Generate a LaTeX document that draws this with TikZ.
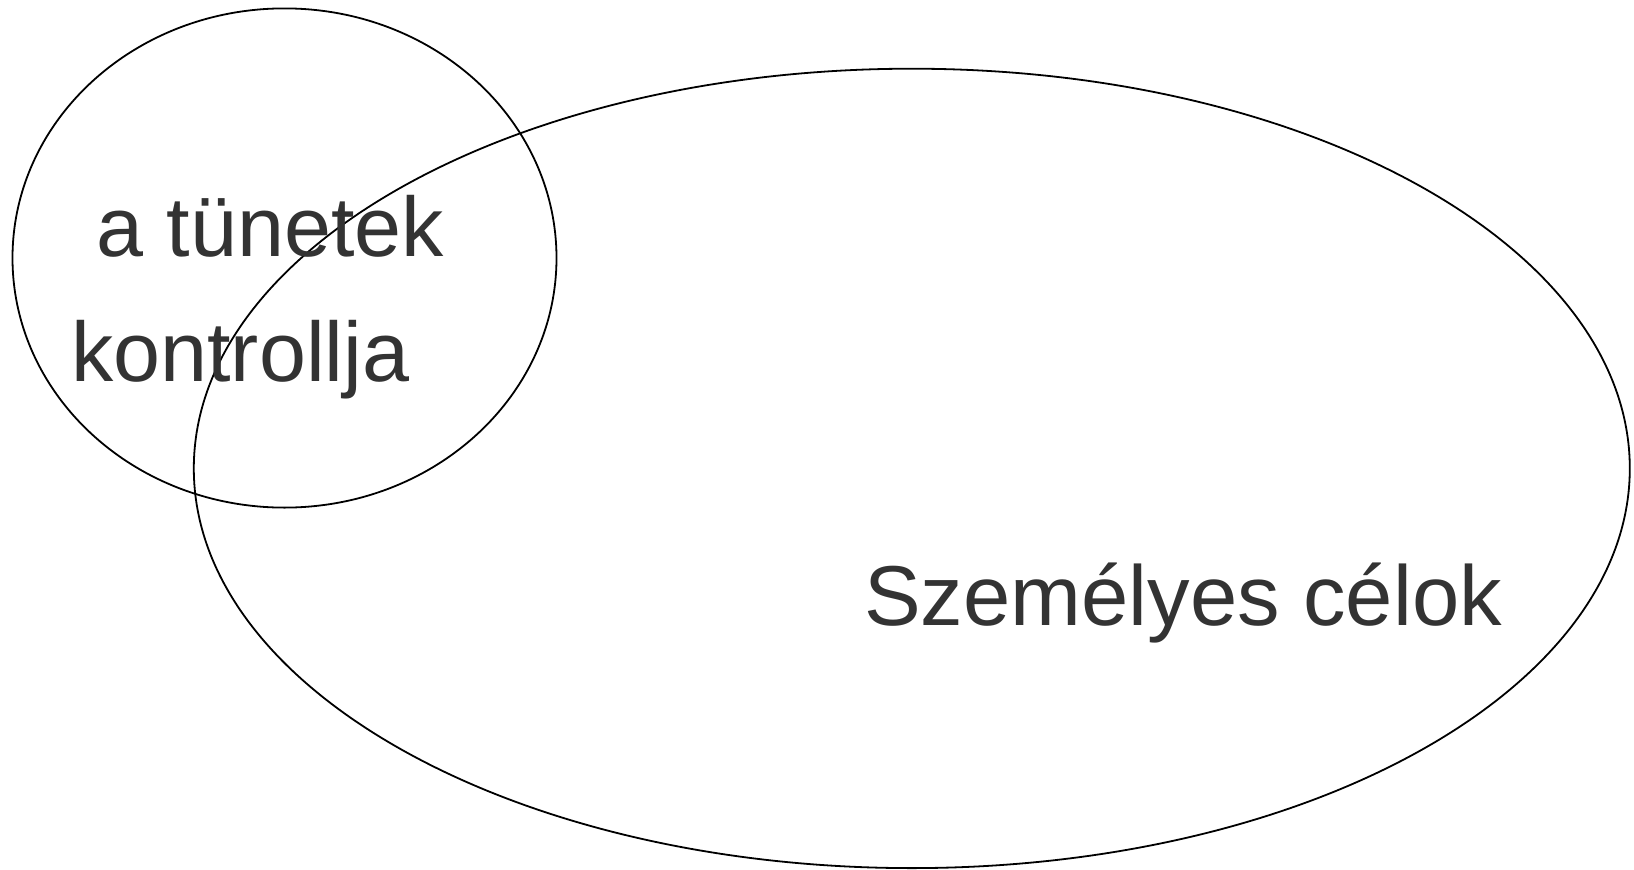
\documentclass[tikz,border=0pt]{standalone}
\usepackage{fontspec}
\setmainfont{Liberation Sans}
\definecolor{txt}{HTML}{333333}
\begin{document}
\begin{tikzpicture}[x=1pt,y=-1pt,
  ring/.style={draw=black,line width=1.8pt},
  lbl/.style={anchor=base west,inner sep=0pt,text=txt,font=\fontsize{84.5}{100}\selectfont}]
\useasboundingbox (0,0) rectangle (1634,870);
\draw[ring] (284.5,258) ellipse [x radius=272, y radius=249.6];
\draw[ring] (911.8,468.4) ellipse [x radius=718, y radius=399.7];
\node[lbl] (t1) at (96,256) {a tünetek};
\node[lbl] (t2) at (71,381) {kontrollja};
\node[lbl,font=\fontsize{85}{100}\selectfont] (t3) at (864,625) {Személyes célok};
\end{tikzpicture}
\end{document}
